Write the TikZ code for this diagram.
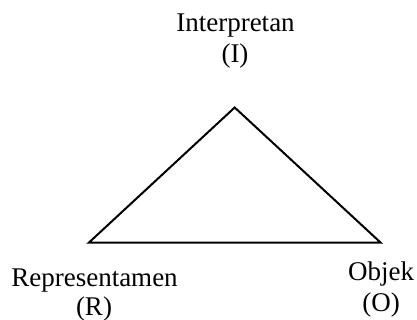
\documentclass[tikz,border=0pt]{standalone}
\usepackage{fontspec}
\setmainfont{Liberation Serif}
\begin{document}
\begin{tikzpicture}[x=1pt,y=-1pt,
  lbl/.style={anchor=base,inner sep=0pt,font=\fontsize{27}{32}\selectfont},
  edge/.style={line width=2pt,line join=miter}]
\useasboundingbox (0,0) rectangle (417,320);
\coordinate (I) at (234.7,107.5);
\coordinate (R) at (89,242.5);
\coordinate (O) at (380.5,242.5);
\draw[edge] (I) -- (R) -- (O) -- cycle;
\node[lbl] (tI) at (235.5,32) {Interpretan};
\node[lbl] (tI2) at (235,63) {(I)};
\node[lbl] (tR) at (94.5,286) {Representamen};
\node[lbl] (tR2) at (94,315.5) {(R)};
\node[lbl] (tO) at (381,280) {Objek};
\node[lbl] (tO2) at (381,311) {(O)};
\end{tikzpicture}
\end{document}
